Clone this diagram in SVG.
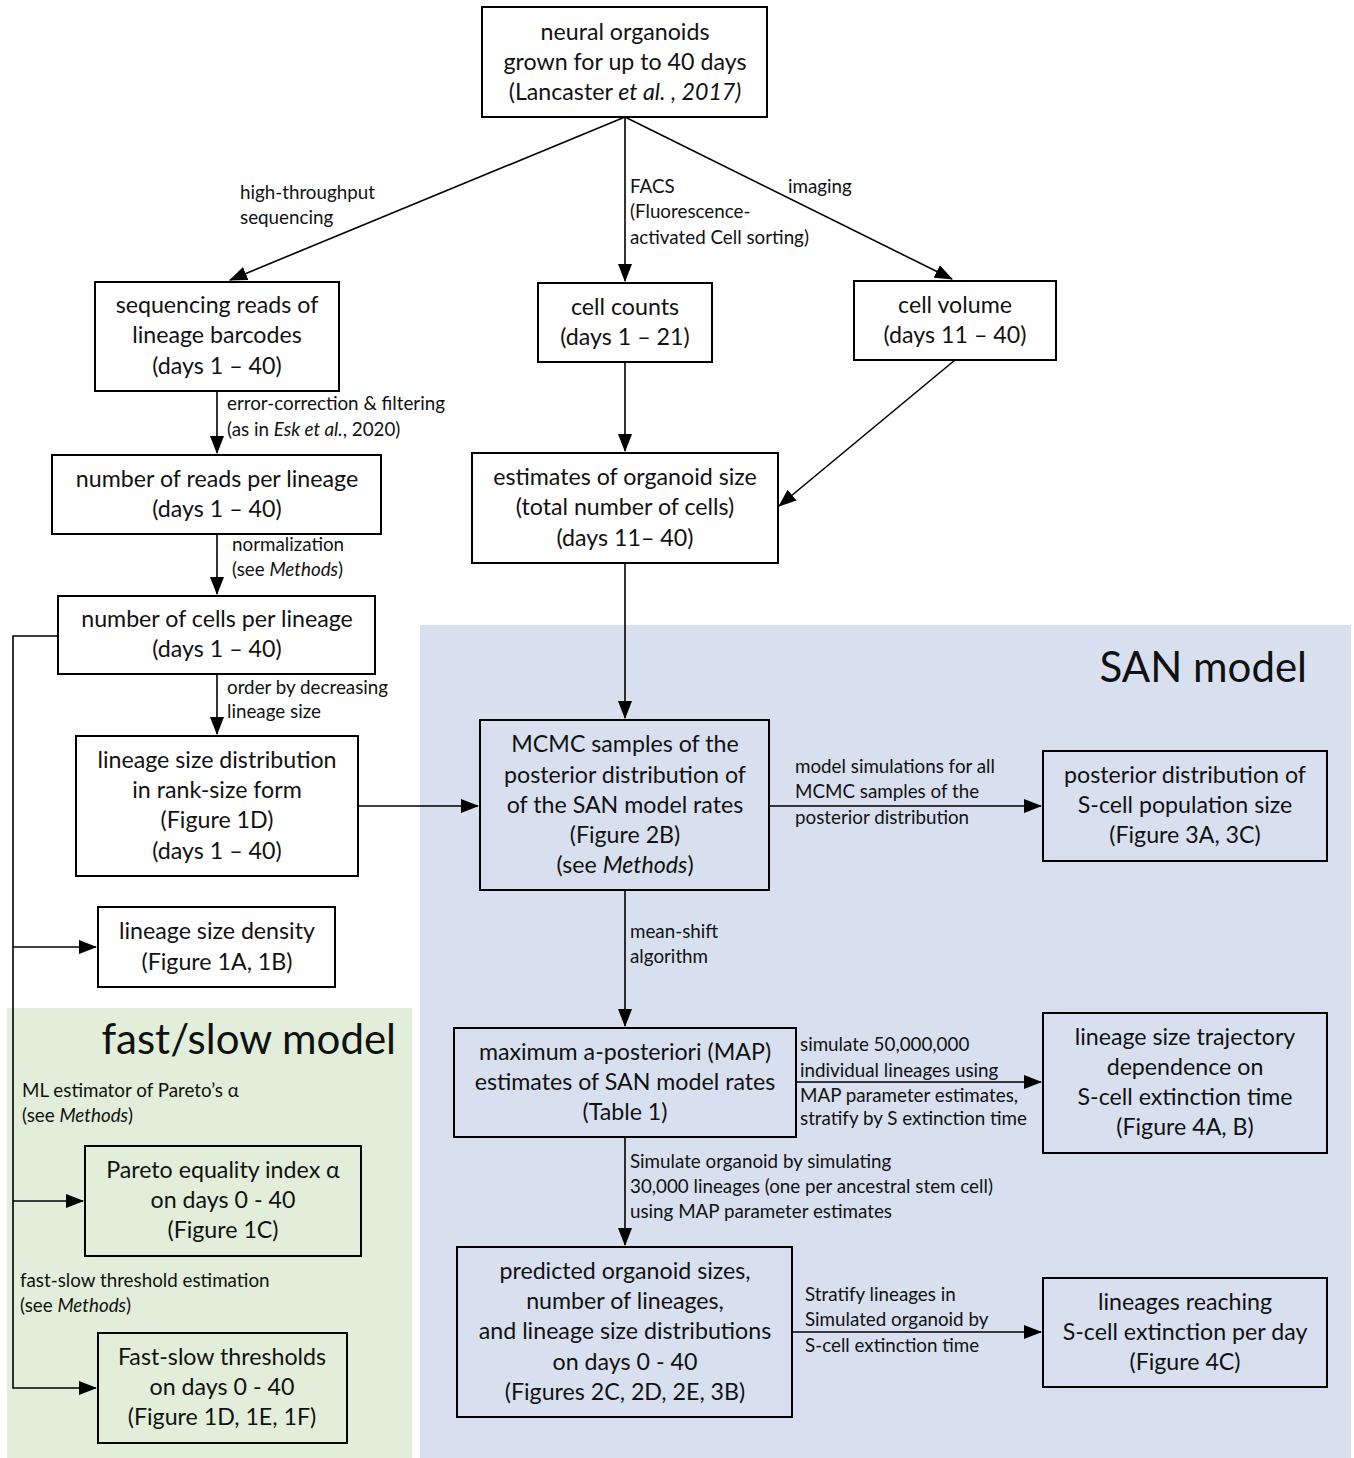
<svg xmlns="http://www.w3.org/2000/svg" width="1354" height="1458" viewBox="0 0 1354 1458">
<defs>
<marker id="ah" markerWidth="18" markerHeight="14" refX="17" refY="7" orient="auto" markerUnits="userSpaceOnUse">
<path d="M0,0 L18,7 L0,14 Z" fill="#000"/>
</marker>
<style>
.box{fill:#fff;stroke:#000;stroke-width:2}
.boxt{fill:none;stroke:#000;stroke-width:2}
.nt{font-family:Lato,"Liberation Sans",sans-serif;font-size:23.2px;text-anchor:middle;fill:#111}
.lt{font-family:Lato,"Liberation Sans",sans-serif;font-size:18.8px;fill:#111}
.big{font-family:Lato,"Liberation Sans",sans-serif;font-size:42px;fill:#111;text-anchor:end}
.c{fill:none;stroke:#000;stroke-width:1.6}
.i{font-style:italic}
</style>
</defs>
<rect width="1354" height="1458" fill="#fff"/>
<g id="regions">
<rect x="420" y="625" width="931" height="833" fill="#d8e0ef"/>
<rect x="7" y="1008" width="405" height="450" fill="#e2eed9"/>
<text class="big" x="1307" y="682">SAN model</text>
<text class="big" x="396" y="1054">fast/slow model</text>
</g>
<g id="connectors">
<path class="c" d="M625,117 L230,280" marker-end="url(#ah)"/>
<path class="c" d="M625,117 L625,281" marker-end="url(#ah)"/>
<path class="c" d="M625,117 L952,279" marker-end="url(#ah)"/>
<path class="c" d="M217,391 L217,453" marker-end="url(#ah)"/>
<path class="c" d="M625,362 L625,451" marker-end="url(#ah)"/>
<path class="c" d="M955,360 L779,506" marker-end="url(#ah)"/>
<path class="c" d="M217,534 L217,594" marker-end="url(#ah)"/>
<path class="c" d="M217,674 L217,734" marker-end="url(#ah)"/>
<path class="c" d="M625,563 L625,718" marker-end="url(#ah)"/>
<path class="c" d="M358,806 L478,806" marker-end="url(#ah)"/>
<path class="c" d="M769,806 L1041,806" marker-end="url(#ah)"/>
<path class="c" d="M625,890 L625,1026" marker-end="url(#ah)"/>
<path class="c" d="M796,1082 L1041,1082" marker-end="url(#ah)"/>
<path class="c" d="M625,1137 L625,1245" marker-end="url(#ah)"/>
<path class="c" d="M792,1332 L1041,1332" marker-end="url(#ah)"/>
<path class="c" d="M58,636 L13,636 L13,1388 L96,1388" marker-end="url(#ah)"/>
<path class="c" d="M13,947 L96,947" marker-end="url(#ah)"/>
<path class="c" d="M13,1201 L83,1201" marker-end="url(#ah)"/>
<text class="lt" x="240" y="199">high-throughput</text>
<text class="lt" x="240" y="224">sequencing</text>
<text class="lt" x="630" y="193">FACS</text>
<text class="lt" x="630" y="218">(Fluorescence-</text>
<text class="lt" x="630" y="244">activated Cell sorting)</text>
<text class="lt" x="788" y="193">imaging</text>
<text class="lt" x="227" y="410">error-correction &amp; filtering</text>
<text class="lt" x="227" y="436">(as in <tspan class="i">Esk et al.</tspan>, 2020)</text>
<text class="lt" x="232" y="551">normalization</text>
<text class="lt" x="232" y="576">(see <tspan class="i">Methods</tspan>)</text>
<text class="lt" x="227" y="694">order by decreasing</text>
<text class="lt" x="227" y="718">lineage size</text>
<text class="lt" x="795" y="773">model simulations for all</text>
<text class="lt" x="795" y="798">MCMC samples of the</text>
<text class="lt" x="795" y="824">posterior distribution</text>
<text class="lt" x="630" y="938">mean-shift</text>
<text class="lt" x="630" y="963">algorithm</text>
<text class="lt" x="800" y="1051">simulate 50,000,000</text>
<text class="lt" x="800" y="1077">individual lineages using</text>
<text class="lt" x="800" y="1102">MAP parameter estimates,</text>
<text class="lt" x="800" y="1125">stratify by S extinction time</text>
<text class="lt" x="630" y="1168">Simulate organoid by simulating</text>
<text class="lt" x="630" y="1193">30,000 lineages (one per ancestral stem cell)</text>
<text class="lt" x="630" y="1218">using MAP parameter estimates</text>
<text class="lt" x="805" y="1301">Stratify lineages in</text>
<text class="lt" x="805" y="1326">Simulated organoid by</text>
<text class="lt" x="805" y="1352">S-cell extinction time</text>
<text class="lt" x="22" y="1097">ML estimator of Pareto’s α</text>
<text class="lt" x="22" y="1122">(see <tspan class="i">Methods</tspan>)</text>
<text class="lt" x="20" y="1287">fast-slow threshold estimation</text>
<text class="lt" x="20" y="1312">(see <tspan class="i">Methods</tspan>)</text>
</g>
<g id="n-organoids">
<rect class="box" x="482" y="7" width="285" height="110"/>
<text class="nt" x="625" y="40">neural organoids</text>
<text class="nt" x="625" y="70">grown for up to 40 days</text>
<text class="nt" x="625" y="100">(Lancaster <tspan class="i">et al. , 2017)</tspan></text>
</g>
<g id="n-seqreads">
<rect class="box" x="95" y="282" width="244" height="109"/>
<text class="nt" x="217" y="313">sequencing reads of</text>
<text class="nt" x="217" y="343">lineage barcodes</text>
<text class="nt" x="217" y="374">(days 1 – 40)</text>
</g>
<g id="n-cellcounts">
<rect class="box" x="538" y="283" width="174" height="79"/>
<text class="nt" x="625" y="315">cell counts</text>
<text class="nt" x="625" y="345">(days 1 –  21)</text>
</g>
<g id="n-cellvolume">
<rect class="box" x="854" y="281" width="202" height="79"/>
<text class="nt" x="955" y="313">cell volume</text>
<text class="nt" x="955" y="343">(days 11 – 40)</text>
</g>
<g id="n-reads">
<rect class="box" x="52" y="455" width="329" height="79"/>
<text class="nt" x="217" y="487">number of reads per lineage</text>
<text class="nt" x="217" y="517">(days 1 – 40)</text>
</g>
<g id="n-estimates">
<rect class="box" x="472" y="453" width="306" height="110"/>
<text class="nt" x="625" y="485">estimates of organoid size</text>
<text class="nt" x="625" y="515">(total number of cells)</text>
<text class="nt" x="625" y="546">(days 11– 40)</text>
</g>
<g id="n-cells">
<rect class="box" x="58" y="596" width="317" height="78"/>
<text class="nt" x="217" y="627">number of cells per lineage</text>
<text class="nt" x="217" y="657">(days 1 – 40)</text>
</g>
<g id="n-ranksize">
<rect class="box" x="76" y="736" width="282" height="140"/>
<text class="nt" x="217" y="768">lineage size distribution</text>
<text class="nt" x="217" y="798">in rank-size form</text>
<text class="nt" x="217" y="828">(Figure 1D)</text>
<text class="nt" x="217" y="859">(days 1 – 40)</text>
</g>
<g id="n-density">
<rect class="box" x="98" y="907" width="237" height="80"/>
<text class="nt" x="217" y="939">lineage size density</text>
<text class="nt" x="217" y="970">(Figure 1A, 1B)</text>
</g>
<g id="n-mcmc">
<rect class="boxt" x="480" y="720" width="289" height="170"/>
<text class="nt" x="625" y="752">MCMC samples of the</text>
<text class="nt" x="625" y="783">posterior distribution of</text>
<text class="nt" x="625" y="813">of the SAN model rates</text>
<text class="nt" x="625" y="843">(Figure 2B)</text>
<text class="nt" x="625" y="873">(see <tspan class="i">Methods</tspan>)</text>
</g>
<g id="n-posterior">
<rect class="boxt" x="1043" y="751" width="284" height="110"/>
<text class="nt" x="1185" y="783">posterior distribution of</text>
<text class="nt" x="1185" y="813">S-cell population size</text>
<text class="nt" x="1185" y="843">(Figure 3A, 3C)</text>
</g>
<g id="n-map">
<rect class="boxt" x="454" y="1028" width="342" height="109"/>
<text class="nt" x="625" y="1060">maximum a-posteriori (MAP)</text>
<text class="nt" x="625" y="1090">estimates of SAN model rates</text>
<text class="nt" x="625" y="1120">(Table 1)</text>
</g>
<g id="n-trajectory">
<rect class="boxt" x="1043" y="1013" width="284" height="140"/>
<text class="nt" x="1185" y="1045">lineage size trajectory</text>
<text class="nt" x="1185" y="1075">dependence on</text>
<text class="nt" x="1185" y="1105">S-cell extinction time</text>
<text class="nt" x="1185" y="1135">(Figure 4A, B)</text>
</g>
<g id="n-predicted">
<rect class="boxt" x="457" y="1247" width="335" height="170"/>
<text class="nt" x="625" y="1279">predicted organoid sizes,</text>
<text class="nt" x="625" y="1309">number of lineages,</text>
<text class="nt" x="625" y="1339">and lineage size distributions</text>
<text class="nt" x="625" y="1370">on days 0 - 40</text>
<text class="nt" x="625" y="1400">(Figures 2C, 2D, 2E, 3B)</text>
</g>
<g id="n-extinction">
<rect class="boxt" x="1043" y="1278" width="284" height="109"/>
<text class="nt" x="1185" y="1310">lineages reaching</text>
<text class="nt" x="1185" y="1340">S-cell extinction per day</text>
<text class="nt" x="1185" y="1370">(Figure 4C)</text>
</g>
<g id="n-pareto">
<rect class="boxt" x="85" y="1146" width="276" height="110"/>
<text class="nt" x="223" y="1178">Pareto equality index α</text>
<text class="nt" x="223" y="1208">on days 0 - 40</text>
<text class="nt" x="223" y="1238">(Figure 1C)</text>
</g>
<g id="n-thresholds">
<rect class="boxt" x="98" y="1333" width="249" height="110"/>
<text class="nt" x="222" y="1365">Fast-slow thresholds</text>
<text class="nt" x="222" y="1395">on days 0 - 40</text>
<text class="nt" x="222" y="1425">(Figure 1D, 1E, 1F)</text>
</g>
</svg>
